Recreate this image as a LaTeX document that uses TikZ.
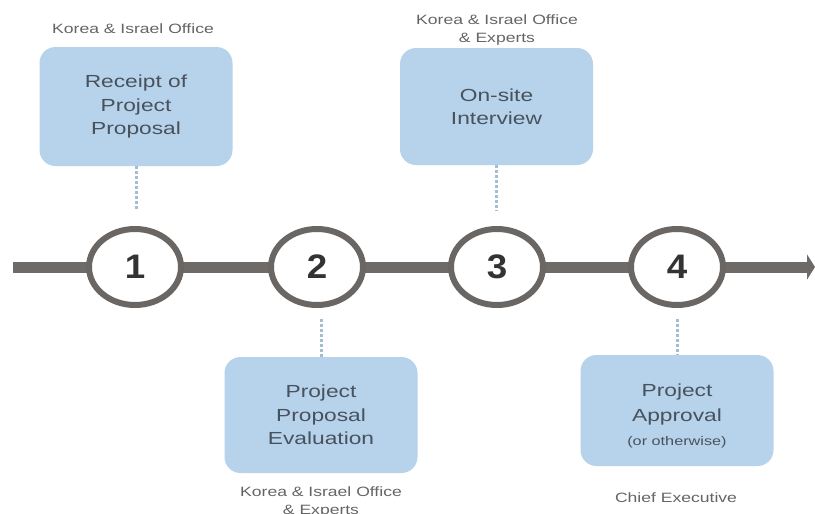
\documentclass[tikz,border=0pt]{standalone}
\usepackage{fontspec}
\setmainfont{Liberation Sans}[FakeStretch=1.3]
\newfontfamily\numfont{Liberation Sans}[FakeStretch=1.08]
\usetikzlibrary{shapes.geometric,arrows.meta,backgrounds}
\definecolor{boxfill}{HTML}{B7D3EB}
\definecolor{boxtext}{HTML}{48525C}
\definecolor{labtext}{HTML}{646464}
\definecolor{linegray}{HTML}{6E6A67}
\definecolor{ringgray}{HTML}{6A6664}
\definecolor{dotblue}{HTML}{A3BDD3}
\begin{document}
\begin{tikzpicture}[x=1pt,y=-1pt,
  stepbox/.style={rectangle, rounded corners=16pt, fill=boxfill, minimum width=193pt,
    inner sep=0pt, text=boxtext, align=center, font=\fontsize{17.5}{23.5}\selectfont},
  boxtxt/.style={text=boxtext, align=center, inner sep=0pt, font=\fontsize{17.5}{24.5}\selectfont},
  lab/.style={text=labtext, align=center, inner sep=0pt, font=\fontsize{13.5}{18}\selectfont},
  ring/.style={ellipse, draw=ringgray, line width=6pt, fill=white, minimum width=92pt,
    minimum height=76pt, inner sep=0pt, text=black!80, font=\numfont\bfseries\fontsize{34}{34}\selectfont},
  dots/.style={dotblue, line width=3pt, dash pattern=on 2.5pt off 2.5pt},
  axis/.style={linegray, line width=11pt}]
\useasboundingbox (0,0) rectangle (815,514);

% steps on the time line
\node[ring] (c1) at (135,267) {1};
\node[ring] (c2) at (317,267) {2};
\node[ring] (c3) at (497,267) {3};
\node[ring] (c4) at (677,267) {4};
\coordinate (start) at (13,267);
\coordinate (end) at (815,267);

% boxes
\node[stepbox, minimum height=119pt] (b1) at (136,106.5) {Receipt of\\Project\\Proposal};
\node[stepbox, minimum height=116pt] (b2) at (321,415) {Project\\Proposal\\Evaluation};
\node[stepbox, minimum height=117pt] (b3) at (496.5,106.5) {On-site\\Interview};
\node[stepbox, minimum height=111pt] (b4) at (677,410.5) {};
\node[boxtxt] (t4) at (677,416) {Project\\Approval\\{\fontsize{12.5}{14}\selectfont (or otherwise)}};

% labels
\node[lab] (l1) at (133,29) {Korea \& Israel Office};
\node[lab] (l3) at (497,30) {Korea \& Israel Office\\\& Experts};
\node[lab] (l2) at (321,502) {Korea \& Israel Office\\\& Experts};
\node[lab] (l4) at (676,498) {Chief Executive};

% dotted connectors
\draw[dots, shorten >=15pt] (b1.south) -- (b1.south |- c1.north);
\draw[dots, shorten >=15pt] (b3.south) -- (b3.south |- c3.north);
\draw[dots, shorten <=11pt] (b2.north |- c2.south) -- (b2.north);
\draw[dots, shorten <=11pt] (c4.south) -- (b4.north);

% time line
\begin{scope}[on background layer]
\draw[axis] (start) -- (c1.center);
\draw[axis] (c1.center) -- (c2.center);
\draw[axis] (c2.center) -- (c3.center);
\draw[axis] (c3.center) -- (c4.center);
\draw[axis, -{Triangle[length=8pt,width=25pt]}] (c4.center) -- (end);
\end{scope}
\end{tikzpicture}
\end{document}
